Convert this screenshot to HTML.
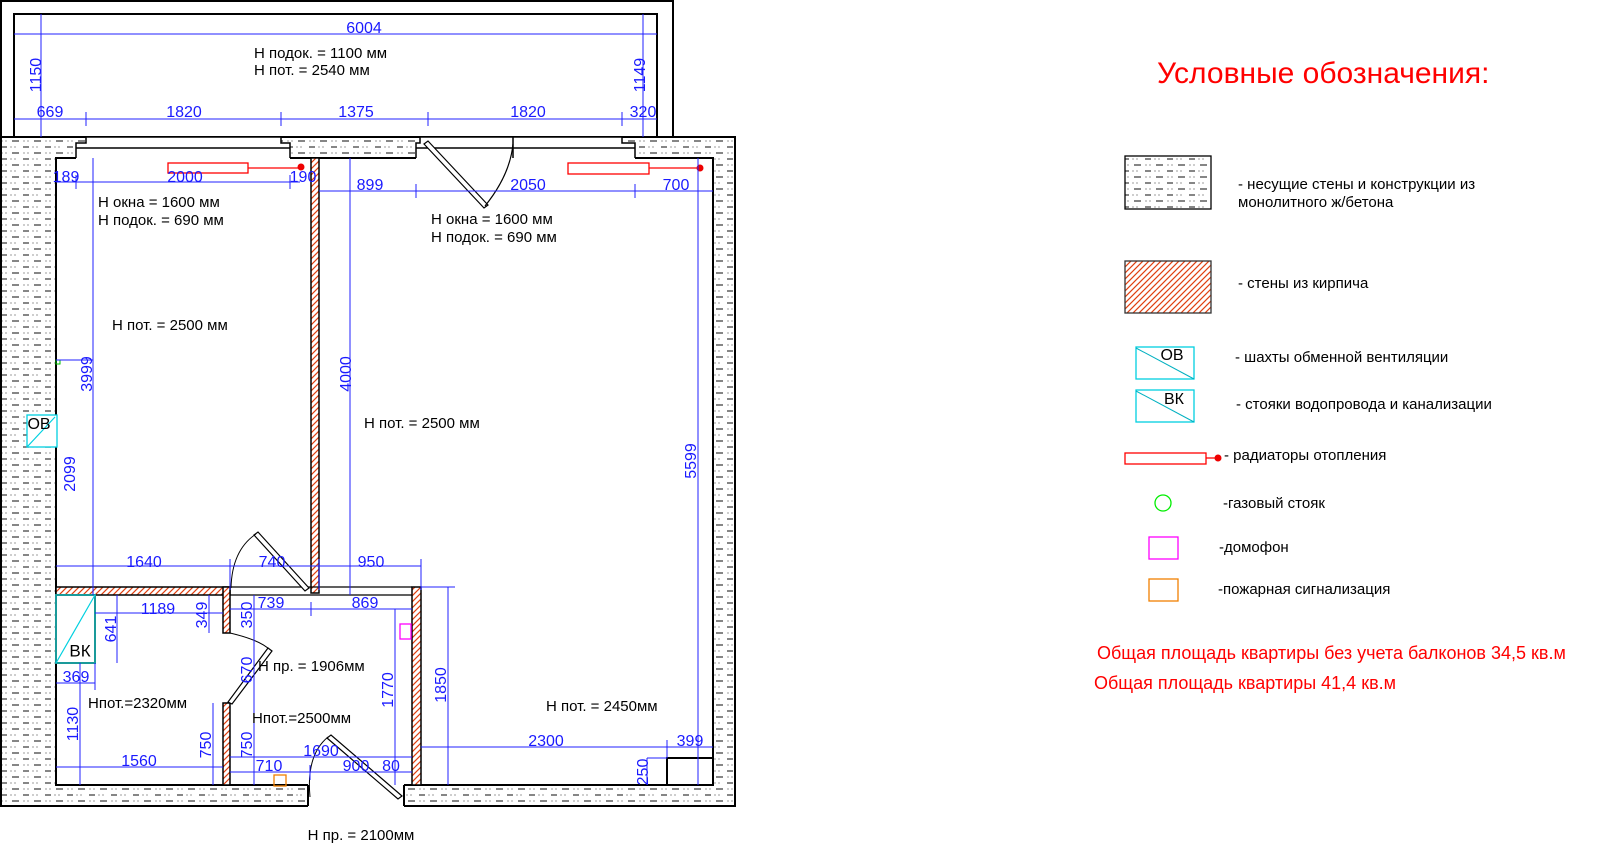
<!DOCTYPE html>
<html><head><meta charset="utf-8"><style>
html,body{margin:0;padding:0;background:#fff;}
svg{display:block;}
text{font-family:"Liberation Sans",sans-serif;}
.d{stroke:#2020ff;stroke-width:1;fill:none;}
.dt{fill:#1a1aff;font-size:16px;text-anchor:middle;dominant-baseline:middle;}
.bt{fill:#000;font-size:15px;dominant-baseline:middle;}
.lt{fill:#000;font-size:15px;dominant-baseline:middle;}
</style></head><body>
<svg width="1600" height="845" viewBox="0 0 1600 845" xmlns="http://www.w3.org/2000/svg">
<defs>
<pattern id="conc" width="22" height="12" patternUnits="userSpaceOnUse">
<rect width="22" height="12" fill="#fff"/>
<line x1="1" y1="3" x2="7" y2="3" stroke="#444" stroke-width="1.3"/>
<circle cx="11" cy="3" r="0.6" fill="#555"/><circle cx="15" cy="3" r="0.6" fill="#555"/>
<circle cx="2" cy="9" r="0.6" fill="#555"/><circle cx="6" cy="9" r="0.6" fill="#555"/>
<line x1="12" y1="9" x2="19" y2="9" stroke="#444" stroke-width="1.3"/>
</pattern>
<pattern id="brick" width="6" height="6" patternUnits="userSpaceOnUse">
<rect width="6" height="6" fill="#fff"/>
<path d="M-1,7 L7,-1 M-1,1 L1,-1 M5,7 L7,5" stroke="#e04010" stroke-width="1.2"/>
</pattern>
</defs>

<rect x="1" y="1" width="672" height="140" fill="#fff" stroke="#000" stroke-width="2"/>
<rect x="14" y="14" width="643" height="127" fill="#fff" stroke="#000" stroke-width="2"/>

<rect x="1" y="137" width="734" height="669" fill="url(#conc)" stroke="#000" stroke-width="2"/>
<rect x="56" y="158" width="657" height="627" fill="#fff" stroke="#000" stroke-width="2"/>
<rect x="86" y="137" width="195" height="7" fill="#fff"/>
<rect x="76" y="143" width="214" height="16" fill="#fff"/>
<path d="M86,137 H281 V143 H290 V158 M76,158 V143 H86 V137 M76,148 H290" stroke="#000" stroke-width="1.5" fill="none"/>
<rect x="420" y="137" width="202" height="7" fill="#fff"/>
<rect x="416" y="143" width="219" height="16" fill="#fff"/>
<path d="M420,137 H622 V143 H635 V158 M416,158 V143 H420 V137 M416,148 H635 M513,137 V158" stroke="#000" stroke-width="1.5" fill="none"/>
<line x1="290" y1="137" x2="420" y2="137" stroke="#000" stroke-width="2"/>
<path d="M424,144 L484,208 L488,205 L428,141 Z" fill="#fff" stroke="#000" stroke-width="1.2"/>
<path d="M485,206 Q510,175 513,144" fill="none" stroke="#000" stroke-width="1.2"/>

<rect x="308" y="784" width="96" height="26" fill="#fff"/>
<line x1="308" y1="785" x2="308" y2="806" stroke="#000" stroke-width="2"/>
<line x1="404" y1="785" x2="404" y2="806" stroke="#000" stroke-width="2"/>
<path d="M327,738 L398,799 L402,796 L331,735 Z" fill="#fff" stroke="#000" stroke-width="1.2"/>
<path d="M310,797 Q306,755 328,737" fill="none" stroke="#000" stroke-width="1"/>

<rect x="311" y="158" width="8" height="435" fill="url(#brick)" stroke="#000" stroke-width="1.5"/>
<rect x="56" y="587" width="174" height="8" fill="url(#brick)" stroke="#000" stroke-width="1.5"/>
<rect x="223" y="587" width="7" height="46" fill="url(#brick)" stroke="#000" stroke-width="1.5"/>
<rect x="223" y="703" width="7" height="82" fill="url(#brick)" stroke="#000" stroke-width="1.5"/>
<rect x="412" y="587" width="9" height="198" fill="url(#brick)" stroke="#000" stroke-width="1.5"/>
<path d="M230,587 H412 M230,595 H412" stroke="#000" stroke-width="1.3"/>
<path d="M254,535 L305,591 L309,588 L258,532 Z" fill="#fff" stroke="#000" stroke-width="1.2"/>
<path d="M231,588 Q232,550 256,534" fill="none" stroke="#000" stroke-width="1"/>
<path d="M230,633 Q260,640 270,650" fill="none" stroke="#000" stroke-width="1"/>
<path d="M268,648 L228,702 L232,704 L272,651 Z" fill="#fff" stroke="#000" stroke-width="1.2"/>

<rect x="56" y="595" width="39" height="68" fill="#fff" stroke="#1a9a9a" stroke-width="2"/>
<line x1="95" y1="595" x2="56" y2="663" stroke="#00d0e0" stroke-width="1.2"/>
<text x="80" y="652" font-size="17" text-anchor="middle" dominant-baseline="middle">ВК</text>
<rect x="27" y="415" width="30" height="32" fill="#fff" stroke="#00d0e0" stroke-width="1.3"/>
<line x1="55" y1="417" x2="27" y2="447" stroke="#00d0e0" stroke-width="1.2"/>
<text x="39" y="425" font-size="16" text-anchor="middle" dominant-baseline="middle">ОВ</text>
<rect x="56" y="360" width="4" height="4" fill="none" stroke="#00c000"/>
<path d="M667,785 V758 H713" stroke="#000" stroke-width="2" fill="none"/>
<rect x="168" y="163" width="80" height="10" fill="none" stroke="red" stroke-width="1.3"/>
<line x1="248" y1="168" x2="301" y2="168" stroke="red" stroke-width="1.3"/><circle cx="301" cy="167" r="3.5" fill="#e00"/>
<rect x="568" y="163" width="81" height="11" fill="none" stroke="red" stroke-width="1.3"/>
<line x1="649" y1="168" x2="700" y2="168" stroke="red" stroke-width="1.3"/><circle cx="700" cy="168" r="3.5" fill="#e00"/>
<rect x="400" y="624" width="11" height="15" fill="none" stroke="#f0f" stroke-width="1.3"/>
<rect x="274" y="775" width="12" height="11" fill="none" stroke="#f08000" stroke-width="1.3"/>

<g class="d">
<path d="M14,34 H657 M41,14 V137 M643,14 V137 M14,119 H657 M86,112 V126 M281,112 V126 M428,112 V126 M622,112 V126"/>
<path d="M56,182 H300 M76,175 V189 M290,175 V189 M319,191 H713 M416,184 V198 M635,184 V198"/>
<path d="M93,158 V595 M56,360 H93 M350,158 V595 M698,158 V785"/>
<path d="M56,566 H421 M230,559 V590 M319,559 V590 M421,559 V590"/>
<path d="M230,609 H412 M311,602 V616 M95,613 H223 M117,595 V663 M56,683 H95 M95,663 V690 M80,663 V785"/>
<path d="M56,767 H223 M213,703 V785 M209,595 V633 M254,595 V785 M230,757 H412 M230,772 H412 M310,765 V780 M395,765 V780"/>
<path d="M395,609 V785 M448,587 V785 M421,587 H455 M421,747 H713 M667,740 V758 M647,758 V785 M647,758 H667"/>
</g>
<g class="dt">
<text x="364" y="29">6004</text>
<text x="50" y="113">669</text><text x="184" y="113">1820</text><text x="356" y="113">1375</text><text x="528" y="113">1820</text><text x="643" y="113">320</text>
<text x="66" y="178">189</text><text x="185" y="178">2000</text><text x="303" y="178">190</text>
<text x="370" y="186">899</text><text x="528" y="186">2050</text><text x="676" y="186">700</text>
<text x="144" y="563">1640</text><text x="272" y="563">740</text><text x="371" y="563">950</text>
<text x="271" y="604">739</text><text x="365" y="604">869</text><text x="158" y="610">1189</text>
<text x="76" y="678">369</text><text x="139" y="762">1560</text><text x="321" y="752">1690</text>
<text x="269" y="767">710</text><text x="356" y="767">900</text><text x="391" y="767">80</text>
<text x="546" y="742">2300</text><text x="690" y="742">399</text>
<text transform="translate(37,75) rotate(-90)">1150</text>
<text transform="translate(641,75) rotate(-90)">1149</text>
<text transform="translate(88,374) rotate(-90)">3999</text>
<text transform="translate(71,474) rotate(-90)">2099</text>
<text transform="translate(347,374) rotate(-90)">4000</text>
<text transform="translate(692,461) rotate(-90)">5599</text>
<text transform="translate(112,629) rotate(-90)">641</text>
<text transform="translate(203,615) rotate(-90)">349</text>
<text transform="translate(248,615) rotate(-90)">350</text>
<text transform="translate(248,670) rotate(-90)">670</text>
<text transform="translate(389,690) rotate(-90)">1770</text>
<text transform="translate(442,685) rotate(-90)">1850</text>
<text transform="translate(74,724) rotate(-90)">1130</text>
<text transform="translate(207,745) rotate(-90)">750</text>
<text transform="translate(248,745) rotate(-90)">750</text>
<text transform="translate(644,772) rotate(-90)">250</text>
</g>
<g class="bt">
<text x="254" y="54">Н подок. = 1100 мм</text>
<text x="254" y="71">Н пот. = 2540 мм</text>
<text x="98" y="203">Н окна = 1600 мм</text>
<text x="98" y="221">Н подок. = 690 мм</text>
<text x="431" y="220">Н окна = 1600 мм</text>
<text x="431" y="238">Н подок. = 690 мм</text>
<text x="112" y="326">Н пот. = 2500 мм</text>
<text x="364" y="424">Н пот. = 2500 мм</text>
<text x="258" y="667">Н пр. = 1906мм</text>
<text x="88" y="704">Нпот.=2320мм</text>
<text x="252" y="719">Нпот.=2500мм</text>
<text x="546" y="707">Н пот. = 2450мм</text>
<text x="361" y="836" text-anchor="middle">Н пр. = 2100мм</text>
</g>

<text x="1157" y="75" font-size="30" fill="#f00" dominant-baseline="middle">Условные обозначения:</text>
<rect x="1125" y="156" width="86" height="53" fill="url(#conc)" stroke="#000" stroke-width="1.3"/>
<text class="lt" x="1238" y="185">- несущие стены и конструкции из</text>
<text class="lt" x="1238" y="203">монолитного ж/бетона</text>
<rect x="1125" y="261" width="86" height="52" fill="url(#brick)" stroke="#333" stroke-width="1.3"/>
<text class="lt" x="1238" y="284">- стены из кирпича</text>
<rect x="1136" y="347" width="58" height="32" fill="#fff" stroke="#00d0e0" stroke-width="1.3"/>
<line x1="1136" y1="348" x2="1194" y2="379" stroke="#00b0c0"/>
<text x="1172" y="356" font-size="16" text-anchor="middle" dominant-baseline="middle">ОВ</text>
<text class="lt" x="1235" y="358">- шахты обменной вентиляции</text>
<rect x="1136" y="390" width="58" height="32" fill="#fff" stroke="#00d0e0" stroke-width="1.3"/>
<line x1="1136" y1="391" x2="1194" y2="422" stroke="#00b0c0"/>
<text x="1174" y="400" font-size="16" text-anchor="middle" dominant-baseline="middle">ВК</text>
<text class="lt" x="1236" y="405">- стояки водопровода и канализации</text>
<rect x="1125" y="453" width="81" height="11" fill="none" stroke="red" stroke-width="1.3"/>
<line x1="1206" y1="458" x2="1218" y2="458" stroke="red" stroke-width="1.3"/><circle cx="1218" cy="458" r="3.5" fill="#e00"/>
<text class="lt" x="1224" y="456">- радиаторы отопления</text>
<circle cx="1163" cy="503" r="8" fill="none" stroke="#0e0" stroke-width="1.3"/>
<text class="lt" x="1223" y="504">-газовый стояк</text>
<rect x="1149" y="537" width="29" height="22" fill="none" stroke="#f0f" stroke-width="1.3"/>
<text class="lt" x="1219" y="548">-домофон</text>
<rect x="1149" y="579" width="29" height="22" fill="none" stroke="#f08000" stroke-width="1.3"/>
<text class="lt" x="1218" y="590">-пожарная сигнализация</text>
<text x="1097" y="654" font-size="18" fill="#f00" dominant-baseline="middle">Общая площадь квартиры без учета балконов  34,5 кв.м</text>
<text x="1094" y="684" font-size="18" fill="#f00" dominant-baseline="middle">Общая площадь квартиры 41,4 кв.м</text>
</svg>
</body></html>
